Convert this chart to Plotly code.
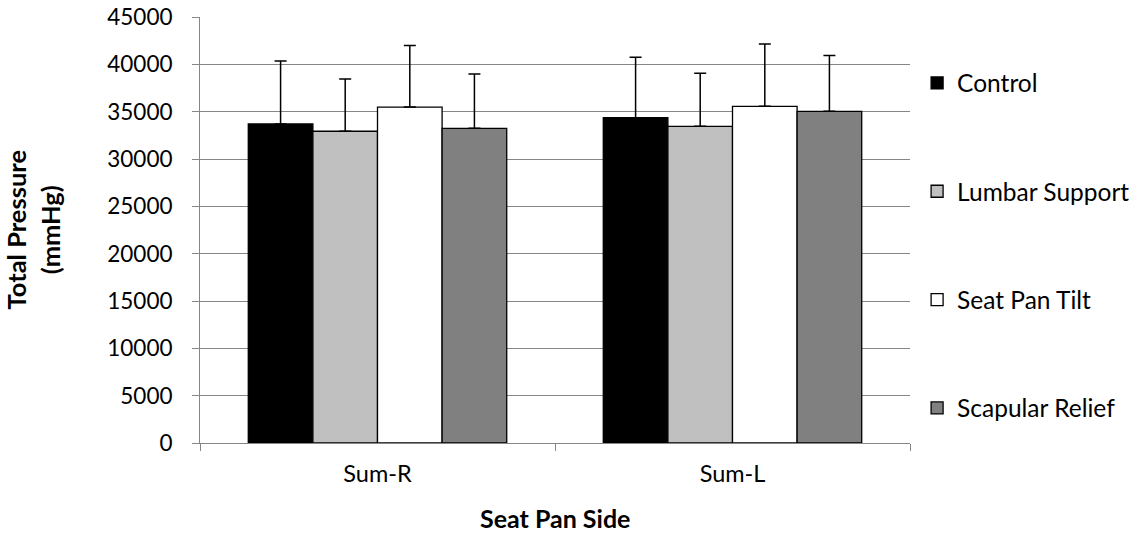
import plotly.graph_objects as go

categories = ["Sum-R", "Sum-L"]
series_names = ["Control", "Lumbar Support", "Seat Pan Tilt", "Scapular Relief"]
control = [33700, 34370]
lumbar = [32930, 33450]
seat_tilt = [35490, 35560]
scapular = [33240, 35040]
control_err = [6650, 6370]
lumbar_err = [5520, 5600]
seat_tilt_err = [6510, 6590]
scapular_err = [5740, 5880]
y_ticks = [0, 5000, 10000, 15000, 20000, 25000, 30000, 35000, 40000, 45000]

values = [control, lumbar, seat_tilt, scapular]
errors = [control_err, lumbar_err, seat_tilt_err, scapular_err]
colors = ["#000000", "#C0C0C0", "#FFFFFF", "#808080"]

FONT = "Lato"
GRID = "#868686"

fig = go.Figure()
for i, (name, vals, errs, col) in enumerate(zip(series_names, values, errors, colors)):
    fig.add_trace(go.Bar(
        name=name,
        x=categories,
        y=vals,
        marker=dict(color=col, line=dict(color="#000000", width=1.3)),
        error_y=dict(type="data", symmetric=False, array=errs,
                     arrayminus=[0] * len(errs), color="#000000",
                     thickness=1.5, width=6),
        legendgroup=name,
    ))

fig.update_layout(
    width=1136, height=533,
    margin=dict(l=200, r=226, t=17, b=90, autoexpand=False),
    paper_bgcolor="white", plot_bgcolor="white",
    barmode="group", bargap=0.272, bargroupgap=0,
    font=dict(family=FONT, size=24, color="#000000"),
    showlegend=True,
    legend=dict(x=1.01, xanchor="left", y=0.898, yanchor="top",
                font=dict(family=FONT, size=24.5, color="#000000"),
                tracegroupgap=73.5, itemwidth=30,
                bgcolor="rgba(0,0,0,0)"),
    xaxis=dict(
        type="category", showline=True, linecolor=GRID, linewidth=1,
        ticks="outside", ticklen=7, tickcolor=GRID, tickson="boundaries",
        showgrid=False, tickfont=dict(family=FONT, size=23.5),
        ticklabelstandoff=10,
    ),
    yaxis=dict(
        range=[0, 45000], tickvals=y_ticks, ticktext=[str(v) for v in y_ticks],
        showline=True, linecolor=GRID, linewidth=1,
        ticks="outside", ticklen=7, tickcolor=GRID,
        showgrid=True, gridcolor=GRID, gridwidth=1,
        zeroline=False, tickfont=dict(family=FONT, size=22.5),
        ticklabelstandoff=15,
    ),
    annotations=[
        dict(text="<b>Total Pressure</b><br><b>(mmHg)</b>", textangle=-90,
             xref="paper", yref="paper", x=-0.236, y=0.5,
             xanchor="center", yanchor="middle", showarrow=False,
             font=dict(family=FONT, size=25.5, color="#000000")),
        dict(text="<b>Seat Pan Side</b>",
             xref="paper", yref="paper", x=0.5, y=-0.176,
             xanchor="center", yanchor="middle", showarrow=False,
             font=dict(family=FONT, size=25, color="#000000")),
    ],
)

fig.write_html("out.html", config={"displayModeBar": False},
               post_script="document.body.style.margin='0';document.body.style.padding='0';")
